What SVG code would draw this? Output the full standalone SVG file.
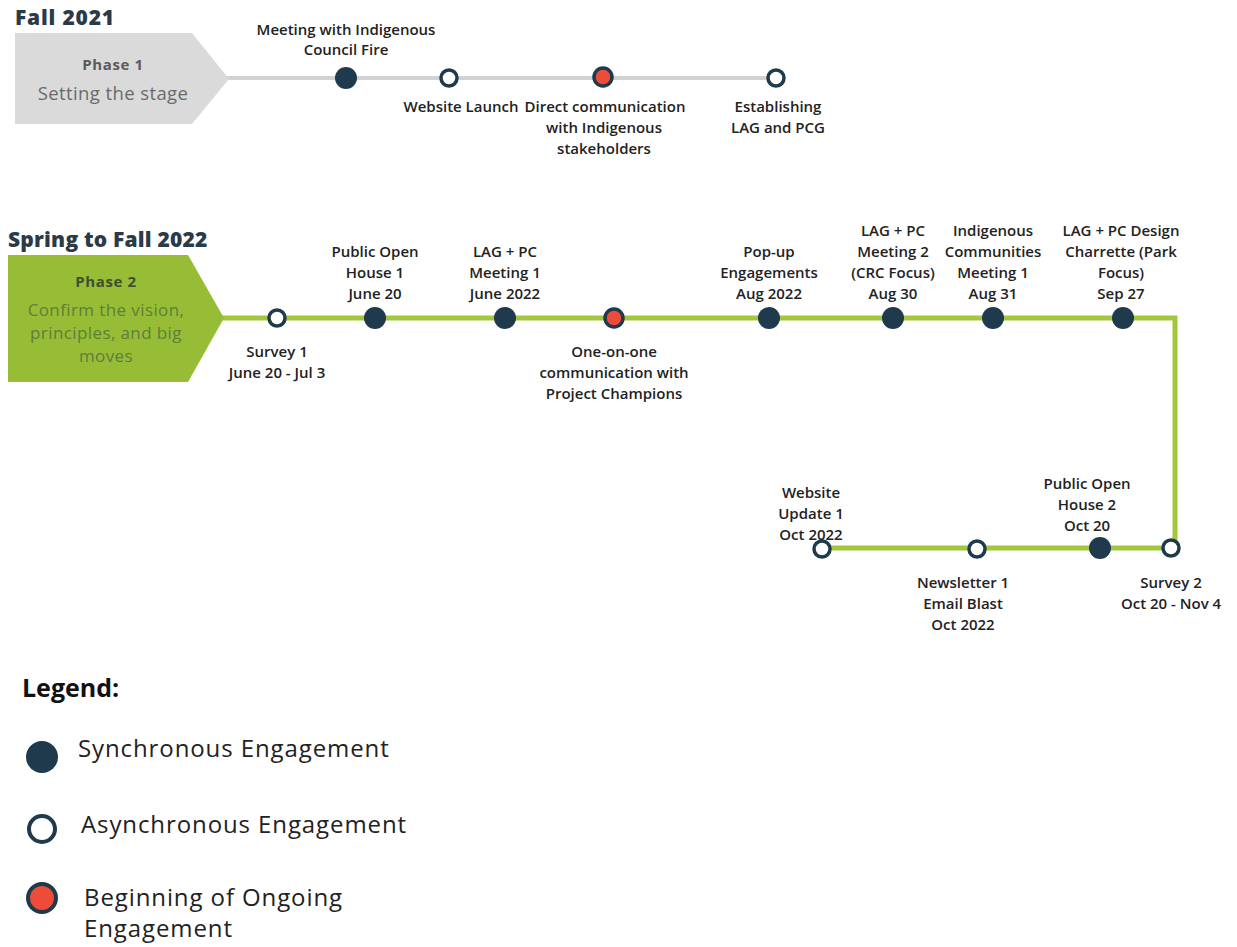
<svg xmlns="http://www.w3.org/2000/svg" width="1237" height="947" viewBox="0 0 1237 947">
  <style>
    .lbl { font-family: "Open Sans", "Liberation Sans", sans-serif; font-weight: 600; font-size: 15px; fill: #222; text-anchor: middle; }
    .head { font-family: "Open Sans", "Liberation Sans", sans-serif; font-weight: 800; font-size: 21px; fill: #2b3a48; }
    .phase { font-family: "Open Sans", "Liberation Sans", sans-serif; font-weight: 700; font-size: 15px; letter-spacing: 0.6px; text-anchor: middle; }
    .phdesc { font-family: "Open Sans", "Liberation Sans", sans-serif; font-weight: 400; font-size: 18.5px; text-anchor: middle; }
    .leg { font-family: "Open Sans", "Liberation Sans", sans-serif; font-size: 24px; letter-spacing: 0.9px; fill: #222; }
    .sync { fill: #1e3a4c; }
    .async { fill: #ffffff; stroke: #1e3a4c; stroke-width: 3.5; }
    .ongo { fill: #ec4c38; stroke: #1e3a4c; stroke-width: 3.5; }
  </style>
  <rect width="1237" height="947" fill="#ffffff"/>

  <!-- Section headings -->
  <text class="head" x="15" y="25" style="letter-spacing:0.8px">Fall 2021</text>
  <text class="head" x="8" y="247" style="letter-spacing:0.2px">Spring to Fall 2022</text>

  <!-- Connectors -->
  <g id="connectors" fill="none">
    <line x1="225" y1="78" x2="778" y2="78" stroke="#d2d2d2" stroke-width="4"/>
    <polyline points="222,318 1175,318 1175,548 822,548" stroke="#a2c73b" stroke-width="5"/>
  </g>

  <!-- Phase banners -->
  <g id="phase1">
    <polygon points="15,33 192,33 229,79 192,124 15,124" fill="#dadada"/>
    <text class="phase" x="113" y="70" fill="#5a5a5a">Phase 1</text>
    <text class="phdesc" x="113" y="100" fill="#6a6a6a" style="letter-spacing:0.4px">Setting the stage</text>
  </g>
  <g id="phase2">
    <polygon points="8,255 188,255 224,318 188,382 8,382" fill="#96bd35"/>
    <text class="phase" x="106" y="287" fill="#3e4f2e">Phase 2</text>
    <g style="font-size:17px;letter-spacing:0.4px" fill="#607e3a">
      <text class="phdesc" x="106" y="316" style="font-size:17px">Confirm the vision,</text>
      <text class="phdesc" x="106" y="339" style="font-size:17px">principles, and big</text>
      <text class="phdesc" x="106" y="362" style="font-size:17px">moves</text>
    </g>
  </g>

  <!-- Fall 2021 events -->
  <g id="council-fire">
    <circle class="sync" cx="346" cy="78" r="11"/>
    <text class="lbl" x="346" y="35">Meeting with Indigenous</text>
    <text class="lbl" x="346" y="55">Council Fire</text>
  </g>
  <g id="website-launch">
    <circle class="async" cx="449" cy="78" r="8"/>
    <text class="lbl" x="461" y="112">Website Launch</text>
  </g>
  <g id="direct-communication">
    <circle class="ongo" cx="603" cy="77" r="9"/>
    <text class="lbl" x="605" y="112">Direct communication</text>
    <text class="lbl" x="604" y="133">with Indigenous</text>
    <text class="lbl" x="604" y="154">stakeholders</text>
  </g>
  <g id="establishing-lag">
    <circle class="async" cx="776" cy="78" r="8"/>
    <text class="lbl" x="778" y="112">Establishing</text>
    <text class="lbl" x="778" y="133">LAG and PCG</text>
  </g>

  <!-- Spring to Fall 2022 events -->
  <g id="survey-1">
    <circle class="async" cx="277" cy="318" r="8"/>
    <text class="lbl" x="277" y="357">Survey 1</text>
    <text class="lbl" x="277" y="378">June 20 - Jul 3</text>
  </g>
  <g id="open-house-1">
    <circle class="sync" cx="375" cy="318" r="11"/>
    <text class="lbl" x="375" y="257">Public Open</text>
    <text class="lbl" x="375" y="278">House 1</text>
    <text class="lbl" x="375" y="299">June 20</text>
  </g>
  <g id="lag-pc-meeting-1">
    <circle class="sync" cx="505" cy="318" r="11"/>
    <text class="lbl" x="505" y="257">LAG + PC</text>
    <text class="lbl" x="505" y="278">Meeting 1</text>
    <text class="lbl" x="505" y="299">June 2022</text>
  </g>
  <g id="one-on-one">
    <circle class="ongo" cx="614" cy="318" r="9"/>
    <text class="lbl" x="614" y="357">One-on-one</text>
    <text class="lbl" x="614" y="378">communication with</text>
    <text class="lbl" x="614" y="399">Project Champions</text>
  </g>
  <g id="pop-up">
    <circle class="sync" cx="769" cy="318" r="11"/>
    <text class="lbl" x="769" y="257">Pop-up</text>
    <text class="lbl" x="769" y="278">Engagements</text>
    <text class="lbl" x="769" y="299">Aug 2022</text>
  </g>
  <g id="lag-pc-meeting-2">
    <circle class="sync" cx="893" cy="318" r="11"/>
    <text class="lbl" x="893" y="236">LAG + PC</text>
    <text class="lbl" x="893" y="257">Meeting 2</text>
    <text class="lbl" x="893" y="278">(CRC Focus)</text>
    <text class="lbl" x="893" y="299">Aug 30</text>
  </g>
  <g id="indigenous-communities">
    <circle class="sync" cx="993" cy="318" r="11"/>
    <text class="lbl" x="993" y="236">Indigenous</text>
    <text class="lbl" x="993" y="257">Communities</text>
    <text class="lbl" x="993" y="278">Meeting 1</text>
    <text class="lbl" x="993" y="299">Aug 31</text>
  </g>
  <g id="design-charrette">
    <circle class="sync" cx="1123" cy="318" r="11"/>
    <text class="lbl" x="1121" y="236">LAG + PC Design</text>
    <text class="lbl" x="1121" y="257">Charrette (Park</text>
    <text class="lbl" x="1121" y="278">Focus)</text>
    <text class="lbl" x="1121" y="299">Sep 27</text>
  </g>
  <g id="website-update-1">
    <circle class="async" cx="822" cy="549" r="8"/>
    <text class="lbl" x="811" y="498">Website</text>
    <text class="lbl" x="811" y="519">Update 1</text>
    <text class="lbl" x="811" y="540">Oct 2022</text>
  </g>
  <g id="newsletter-1">
    <circle class="async" cx="977" cy="549" r="8"/>
    <text class="lbl" x="963" y="588">Newsletter 1</text>
    <text class="lbl" x="963" y="609">Email Blast</text>
    <text class="lbl" x="963" y="630">Oct 2022</text>
  </g>
  <g id="open-house-2">
    <circle class="sync" cx="1100" cy="548" r="11"/>
    <text class="lbl" x="1087" y="489">Public Open</text>
    <text class="lbl" x="1087" y="510">House 2</text>
    <text class="lbl" x="1087" y="531">Oct 20</text>
  </g>
  <g id="survey-2">
    <circle class="async" cx="1171" cy="548" r="8"/>
    <text class="lbl" x="1171" y="588">Survey 2</text>
    <text class="lbl" x="1171" y="609">Oct 20 - Nov 4</text>
  </g>

  <!-- Legend -->
  <g id="legend">
    <text class="head" x="22" y="697" style="fill:#111;font-size:25px;font-weight:700">Legend:</text>
    <circle class="sync" cx="42" cy="757" r="16"/>
    <text class="leg" x="78" y="757">Synchronous Engagement</text>
    <circle class="async" cx="42" cy="829" r="13" style="stroke-width:4"/>
    <text class="leg" x="81" y="833">Asynchronous Engagement</text>
    <circle class="ongo" cx="42" cy="898" r="14" style="stroke-width:4"/>
    <text class="leg" x="84" y="906">Beginning of Ongoing</text>
    <text class="leg" x="84" y="937">Engagement</text>
  </g>
</svg>
